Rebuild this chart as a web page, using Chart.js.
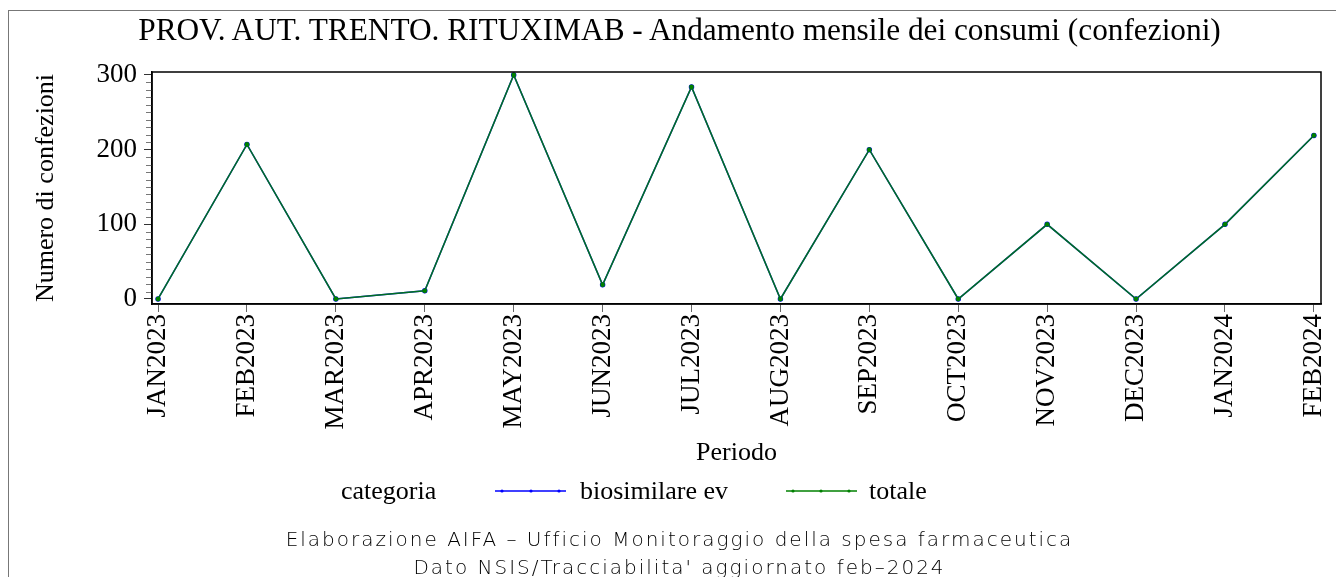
<!DOCTYPE html>
<html>
<head>
<meta charset="utf-8">
<script src="https://cdn.jsdelivr.net/npm/chart.js@4"></script>
<style>
    html, body { margin: 0; padding: 0; background: #fff; overflow: hidden; }
    #wrap { position: relative; width: 1336px; height: 577px; }
    #frame { position: absolute; left: 8px; top: 10px; width: 1343px; height: 600px; border: 1px solid #777; box-sizing: border-box; }
    #chart { position: absolute; left: 0; top: 0; }
    .serif { font-family: "Liberation Serif", "Times New Roman", serif; color: #000; }
    #title { position: absolute; left: 8px; width: 1343px; top: 11px; text-align: center; font-size: 31.3px; line-height: 38px; }
    .leg { position: absolute; top: 474px; font-size: 26px; line-height: 34px; white-space: nowrap; }
    .legLine { position: absolute; top: 482px; }
    #footer { position: absolute; left: 8px; width: 1343px; top: 525px; text-align: center; letter-spacing: 2px;
              font-family: "DejaVu Sans", sans-serif; font-weight: 200; font-size: 20px; line-height: 28px; color: #000; }
</style>
</head>
<body>
<div id="wrap">
    <div id="frame"></div>
    <canvas id="chart" width="1336" height="577"></canvas>
    <div id="title" class="serif">PROV. AUT. TRENTO. RITUXIMAB - Andamento mensile dei consumi (confezioni)</div>
    <div class="leg serif" style="left:341px">categoria</div>
    <svg class="legLine" style="left:494px" width="74" height="18">
        <line x1="1" y1="9" x2="72" y2="9" stroke="#0000ff" stroke-width="1.5"/>
        <circle cx="8" cy="9" r="1.6" fill="#0000ff"/><circle cx="37" cy="9" r="1.6" fill="#0000ff"/><circle cx="65" cy="9" r="1.6" fill="#0000ff"/>
    </svg>
    <div class="leg serif" style="left:580px">biosimilare ev</div>
    <svg class="legLine" style="left:785px" width="74" height="18">
        <line x1="1" y1="9" x2="72" y2="9" stroke="#008000" stroke-width="1.5"/>
        <circle cx="8" cy="9" r="1.6" fill="#008000"/><circle cx="36" cy="9" r="1.6" fill="#008000"/><circle cx="64" cy="9" r="1.6" fill="#008000"/>
    </svg>
    <div class="leg serif" style="left:869px">totale</div>
    <div id="footer">Elaborazione AIFA &#8211; Ufficio Monitoraggio della spesa farmaceutica<br>Dato NSIS/Tracciabilita' aggiornato feb&#8211;2024</div>
</div>
<script>
var periodi = ['JAN2023', 'FEB2023', 'MAR2023', 'APR2023', 'MAY2023', 'JUN2023', 'JUL2023',
    'AUG2023', 'SEP2023', 'OCT2023', 'NOV2023', 'DEC2023', 'JAN2024', 'FEB2024'];
var biosimilareEv = [0, 207, 0, 11, 300, 19, 284, 0, 200, 0, 100, 0, 100, 219];
var totale = [0, 207, 0, 11, 300, 19, 284, 0, 200, 0, 100, 0, 100, 219];
var yTicks = [0, 100, 200, 300];

var serif = '"Liberation Serif", "Times New Roman", serif';

function toPoints(values) {
    return values.map(function (v, i) { return { x: i, y: v }; });
}

// frame around the plot plus the small unlabelled ticks on the y axis
var framePlugin = {
    id: 'frame',
    afterDraw: function (chart) {
        var ctx = chart.ctx;
        var a = chart.chartArea;
        var y = chart.scales.y;
        ctx.save();
        ctx.strokeStyle = '#777';
        ctx.lineWidth = 1;
        for (var v = 10; v < 300; v += 10) {
            if (v % 100 === 0) continue;
            var py = Math.round(y.getPixelForValue(v)) + 0.5;
            ctx.beginPath();
            ctx.moveTo(a.left - 6, py);
            ctx.lineTo(a.left, py);
            ctx.stroke();
        }
        ctx.strokeStyle = '#000';
        ctx.lineWidth = 1.5;
        ctx.strokeRect(a.left, a.top, a.right - a.left, a.bottom - a.top);
        ctx.restore();
    }
};

new Chart(document.getElementById('chart').getContext('2d'), {
    type: 'line',
    data: {
        datasets: [
            {
                label: 'biosimilare ev',
                data: toPoints(biosimilareEv),
                order: 1,
                borderColor: '#0000ff',
                backgroundColor: '#0000ff',
                borderWidth: 1.5,
                pointRadius: 2,
                tension: 0
            },
            {
                label: 'totale',
                data: toPoints(totale),
                order: 0,
                borderColor: 'rgba(0, 128, 0, 0.87)',
                backgroundColor: '#008000',
                borderWidth: 1.5,
                pointRadius: 2.4,
                pointBorderWidth: 0,
                tension: 0
            }
        ]
    },
    options: {
        responsive: false,
        animation: false,
        layout: { padding: { left: 27, top: 72, right: 15, bottom: 104 } },
        plugins: {
            legend: { display: false },
            tooltip: { enabled: false }
        },
        scales: {
            x: {
                type: 'linear',
                min: -0.068,
                max: 13.08,
                afterBuildTicks: function (scale) {
                    scale.ticks = periodi.map(function (p, i) { return { value: i }; });
                },
                afterFit: function (scale) {
                    scale.height = 169;
                    scale.paddingLeft = 0;
                    scale.paddingRight = 0;
                },
                grid: { drawOnChartArea: false, tickLength: 8, color: '#666' },
                border: { color: '#000', width: 1.5 },
                ticks: {
                    autoSkip: false,
                    maxRotation: 90,
                    minRotation: 90,
                    padding: 2,
                    color: '#000',
                    font: { family: serif, size: 27 },
                    callback: function (value) { return periodi[value]; }
                },
                title: {
                    display: true,
                    text: 'Periodo',
                    color: '#000',
                    font: { family: serif, size: 26 }
                }
            },
            y: {
                min: -6.7,
                max: 304,
                afterBuildTicks: function (scale) {
                    scale.ticks = yTicks.map(function (v) { return { value: v }; });
                },
                afterFit: function (scale) { scale.width = 125; },
                grid: { drawOnChartArea: false, tickLength: 8, color: '#333' },
                border: { color: '#000', width: 1.5 },
                ticks: {
                    padding: 7,
                    color: '#000',
                    font: { family: serif, size: 27 }
                },
                title: {
                    display: true,
                    text: 'Numero di confezioni',
                    color: '#000',
                    font: { family: serif, size: 26 }
                }
            }
        }
    },
    plugins: [framePlugin]
});
</script>
</body>
</html>
